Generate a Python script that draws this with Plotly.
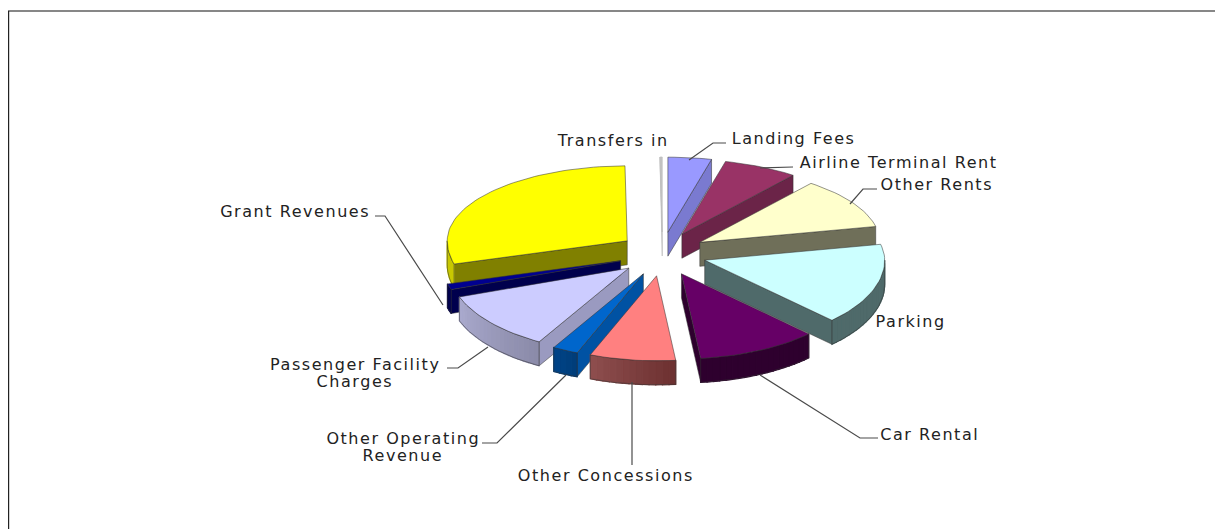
import math
import plotly.graph_objects as go

# Data (percent of total, clockwise from 12 o'clock)
categories = ["Landing Fees", "Airline Terminal Rent", "Other Rents", "Parking", "Car Rental",
              "Other Concessions", "Other Operating Revenue", "Passenger Facility Charges",
              "Grant Revenues", "", "Transfers in"]
values = [3.9, 6.7, 11.0, 15.9, 10.8, 7.7, 2.3, 11.2, 1.1, 29.2, 0.2]
top_colors = ["#9999FF", "#993366", "#FFFFCC", "#CCFFFF", "#660066", "#FF8080", "#0066CC",
              "#CCCCFF", "#000090", "#FFFF00", "#C4C4C4"]
face_colors = ["#7A7AD0", "#6B2448", "#6F6F59", "#4F6A6A", "#2E002E", "#8C4C4C", "#0052A3",
               "#9A9AC0", "#00004D", "#808000", "#B8B8B8"]
arc_left = ["#7A7AD0", "#6B2448", "#6F6F59", "#4F6A6A", "#2E002E", "#8E4E4E", "#004488",
            "#AAAACE", "#00004D", "#C8C800", "#B8B8B8"]
arc_right = ["#7A7AD0", "#6B2448", "#6F6F59", "#4F6A6A", "#2E002E", "#6C3030", "#003C78",
             "#8A8AA8", "#00004D", "#C8C800", "#B8B8B8"]
line_colors = ["rgba(50,50,50,0.75)"] * 10 + ["#BDBDBD"]

CX, CY = 662.5, 254    # pie centre, px
A, B_BACK, B_FRONT = 180, 75, 85
EX, EY = 44, 22        # explosion
H = 24                 # extrusion depth
OUT = "rgba(50,50,50,0.75)"
PAGE_MARGIN = 8        # the page's body margin


def pt(o, deg, r=1.0):
    s, c = math.sin(math.radians(deg)), math.cos(math.radians(deg))
    b = B_BACK if c > 0 else B_FRONT
    return o[0] + A * r * s, o[1] - b * r * c


def mix(c1, c2, t):
    a = [int(c1[i:i + 2], 16) for i in (1, 3, 5)]
    b = [int(c2[i:i + 2], 16) for i in (1, 3, 5)]
    return "#%02X%02X%02X" % tuple(round(a[i] + (b[i] - a[i]) * t) for i in range(3))


fig = go.Figure()


def poly(xs, ys, fill, line=OUT, width=0.7, name=""):
    fig.add_trace(go.Scatter(x=xs + xs[:1], y=ys + ys[:1], mode="lines", fill="toself",
                             fillcolor=fill, line=dict(color=line, width=width),
                             hoverinfo="text", text=name, showlegend=False))


# slice geometry
slices = []
start = 0.0
total = sum(values)
for i, v in enumerate(values):
    sweep = v / total * 360
    end = start + sweep
    mid = (start + end) / 2
    m = math.radians(mid)
    apex = (CX + EX * math.sin(m), CY - EY * math.cos(m))
    slices.append(dict(i=i, s=start, e=end, mid=mid, apex=apex))
    start = end

# paint back slices first
for sl in sorted(slices, key=lambda d: d["apex"][1]):
    i, s, e, apex = sl["i"], sl["s"], sl["e"], sl["apex"]
    name = categories[i]
    n = max(4, int((e - s) / 2))
    angs = [s + (e - s) * k / n for k in range(n + 1)]
    # radial side faces
    if math.sin(math.radians(e)) > 0:
        p = pt(apex, e)
        poly([apex[0], p[0], p[0], apex[0]], [apex[1], p[1], p[1] + H, apex[1] + H], face_colors[i], line=line_colors[i], name=name)
    if math.sin(math.radians(s)) < 0:
        p = pt(apex, s)
        poly([apex[0], p[0], p[0], apex[0]], [apex[1], p[1], p[1] + H, apex[1] + H], face_colors[i], line=line_colors[i], name=name)
    # outer wall, shaded piece by piece
    lo, hi = max(s, 90), min(e, 270)
    if hi > lo:
        m_ = max(2, int((hi - lo) / 2))
        for k in range(m_):
            a0 = lo + (hi - lo) * k / m_
            a1 = lo + (hi - lo) * (k + 1) / m_
            p0, p1 = pt(apex, a0), pt(apex, a1)
            col = mix(arc_right[i], arc_left[i], (k + 0.5) / m_)
            poly([p0[0], p1[0], p1[0], p0[0]], [p0[1], p1[1], p1[1] + H, p0[1] + H], col, line=col, width=1.2, name=name)
        p0, p1 = pt(apex, lo), pt(apex, hi)
        arc = [pt(apex, lo + (hi - lo) * k / m_) for k in range(m_ + 1)]
        fig.add_trace(go.Scatter(x=[q[0] for q in arc] + [p1[0]] + [q[0] for q in arc[::-1]] + [p0[0], p0[0]],
                                 y=[q[1] + H for q in arc] + [p1[1]] + [q[1] for q in arc[::-1]] + [p0[1] + H, p0[1] + H],
                                 mode="lines", line=dict(color=OUT, width=0.7), hoverinfo="skip", showlegend=False))
    # top face
    arc = [pt(apex, a) for a in angs]
    poly([apex[0]] + [q[0] for q in arc], [apex[1]] + [q[1] for q in arc], top_colors[i], line=line_colors[i], name=name)

# leader lines
leaders = [
    [(689, 160), (713, 143), (726, 143)],
    [(760, 168), (793, 167)],
    [(850, 204), (863, 189), (877, 189)],
    [(760, 375), (860, 438), (878, 438)],
    [(632, 382), (632, 465)],
    [(566, 375), (497, 443), (482, 443)],
    [(488, 347), (458, 368), (447, 368)],
    [(443, 305), (385, 216), (375, 216)],
]
for ln in leaders:
    fig.add_trace(go.Scatter(x=[p[0] for p in ln], y=[p[1] for p in ln], mode="lines",
                             line=dict(color="#4A4A4A", width=1.2), hoverinfo="skip", showlegend=False))

# labels: text, x, y (each printed line is placed on its own for the tight line spacing)
labels = [
    ("Transfers in", 612, 140),
    ("Landing Fees", 793, 138),
    ("Airline Terminal Rent", 898, 162),
    ("Other Rents", 936.5, 184),
    ("Parking", 910.5, 321),
    ("Car Rental", 930, 434),
    ("Other Concessions", 605.5, 475),
    ("Other Operating", 403, 438),
    ("Revenue", 403, 455),
    ("Passenger Facility", 355, 364),
    ("Charges", 355, 381),
    ("Grant Revenues", 294.5, 211),
]
annotations = [dict(x=x, y=y, text=t, showarrow=False, xanchor="center", yanchor="middle",
                    font=dict(family="DejaVu Sans", size=16, color="#222222"))
               for t, x, y in labels]

shapes = [
    dict(type="line", x0=8, x1=1216, y0=11, y1=11, line=dict(color="#111111", width=1.2)),
    dict(type="line", x0=8.6, x1=8.6, y0=11, y1=529, line=dict(color="#222222", width=1.2)),
]

fig.update_layout(
    width=1223 - PAGE_MARGIN, height=529 - PAGE_MARGIN, margin=dict(l=0, r=0, t=0, b=0),
    paper_bgcolor="white", plot_bgcolor="white", showlegend=False,
    xaxis=dict(range=[PAGE_MARGIN, 1223], visible=False, fixedrange=True),
    yaxis=dict(range=[529, PAGE_MARGIN], visible=False, fixedrange=True),
    annotations=annotations, shapes=shapes,
)
# the reference's lettering is stretched wide; letter-spacing reproduces its widths
stretch = ("var s=document.createElement('style');"
           "s.textContent='.annotation-text{letter-spacing:1.55px}';"
           "document.head.appendChild(s);")
fig.write_html("out.html", config={"displayModeBar": False}, post_script=stretch)
